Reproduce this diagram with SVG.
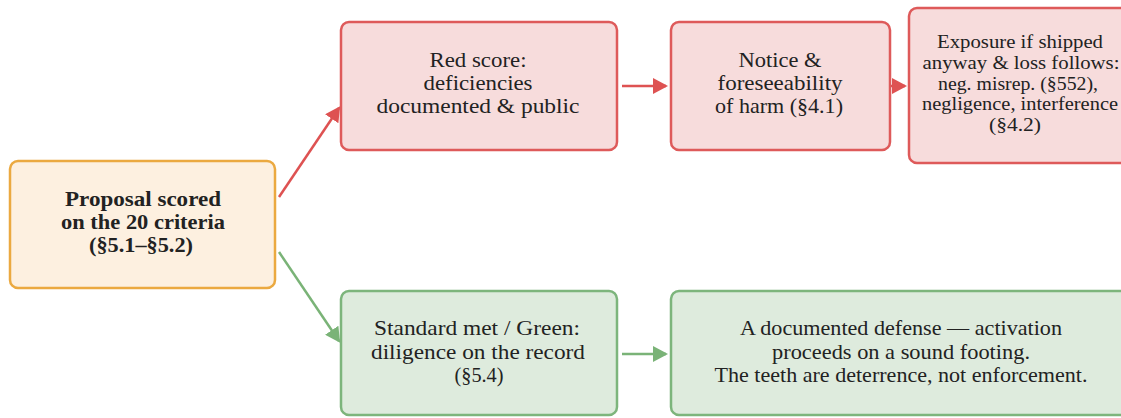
<svg xmlns="http://www.w3.org/2000/svg" width="1121" height="418" viewBox="0 0 1121 418">
<defs>
<style>
text{font-family:"Liberation Serif","DejaVu Serif",serif;fill:#222;text-anchor:middle;font-size:21px}
.b{font-weight:bold}
.s{font-size:19px}
.red{fill:#f7dcdc;stroke:#de5a5a;stroke-width:2.5}
.grn{fill:#deebdd;stroke:#7db57c;stroke-width:2.5}
.org{fill:#fdf0e0;stroke:#eba940;stroke-width:2.5}
.cr{stroke:#de5252;stroke-width:2.5;fill:none}
.cg{stroke:#7ab377;stroke-width:2.5;fill:none}
</style>
<marker id="ar" viewBox="0 0 15 16" refX="13" refY="8" markerWidth="15" markerHeight="16" markerUnits="userSpaceOnUse" orient="auto"><path d="M0,0L15,8L0,16z" fill="#de5252"/></marker>
<marker id="ag" viewBox="0 0 15 16" refX="13" refY="8" markerWidth="15" markerHeight="16" markerUnits="userSpaceOnUse" orient="auto"><path d="M0,0L15,8L0,16z" fill="#7ab377"/></marker>
</defs>
<g id="connectors">
<path class="cr" d="M279,197L339,108" marker-end="url(#ar)"/>
<path class="cg" d="M279,252L339,341" marker-end="url(#ag)"/>
<path class="cr" d="M622,86L666,86" marker-end="url(#ar)"/>
<path class="cr" d="M891,86L905,86" marker-end="url(#ar)"/>
<path class="cg" d="M622,354L666,354" marker-end="url(#ag)"/>
</g>
<g id="n-proposal">
<rect class="org" x="10" y="161" width="265" height="127" rx="8"/>
<text class="b" x="143" y="206" textLength="156" lengthAdjust="spacingAndGlyphs">Proposal scored</text>
<text class="b" x="143" y="229" textLength="164" lengthAdjust="spacingAndGlyphs">on the 20 criteria</text>
<text class="b" x="141" y="252" textLength="104" lengthAdjust="spacingAndGlyphs">(§5.1–§5.2)</text>
</g>
<g id="n-red">
<rect class="red" x="341" y="22" width="276" height="128" rx="8"/>
<text x="478" y="67" textLength="97" lengthAdjust="spacingAndGlyphs">Red score:</text>
<text x="478" y="90" textLength="109" lengthAdjust="spacingAndGlyphs">deficiencies</text>
<text x="478" y="113" textLength="203" lengthAdjust="spacingAndGlyphs">documented &amp; public</text>
</g>
<g id="n-notice">
<rect class="red" x="671" y="22" width="219" height="128" rx="8"/>
<text x="780" y="67" textLength="83" lengthAdjust="spacingAndGlyphs">Notice &amp;</text>
<text x="780" y="90" textLength="125" lengthAdjust="spacingAndGlyphs">foreseeability</text>
<text x="779" y="113" textLength="128" lengthAdjust="spacingAndGlyphs">of harm (§4.1)</text>
</g>
<g id="n-exposure">
<rect class="red" x="909" y="8" width="230" height="155" rx="8"/>
<text class="s" x="1020" y="48" textLength="166" lengthAdjust="spacingAndGlyphs">Exposure if shipped</text>
<text class="s" x="1021" y="69" textLength="197" lengthAdjust="spacingAndGlyphs">anyway &amp; loss follows:</text>
<text class="s" x="1018" y="90" textLength="160" lengthAdjust="spacingAndGlyphs">neg. misrep. (§552),</text>
<text class="s" x="1020" y="110" textLength="196" lengthAdjust="spacingAndGlyphs">negligence, interference</text>
<text class="s" x="1015" y="131" textLength="52" lengthAdjust="spacingAndGlyphs">(§4.2)</text>
</g>
<g id="n-green">
<rect class="grn" x="341" y="291" width="276" height="124" rx="8"/>
<text x="477" y="335" textLength="206" lengthAdjust="spacingAndGlyphs">Standard met / Green:</text>
<text x="478" y="359" textLength="214" lengthAdjust="spacingAndGlyphs">diligence on the record</text>
<text x="479" y="382" textLength="49" lengthAdjust="spacingAndGlyphs">(§5.4)</text>
</g>
<g id="n-defense">
<rect class="grn" x="671" y="291" width="470" height="124" rx="8"/>
<text x="901" y="335" textLength="322" lengthAdjust="spacingAndGlyphs">A documented defense — activation</text>
<text x="901" y="359" textLength="258" lengthAdjust="spacingAndGlyphs">proceeds on a sound footing.</text>
<text x="901" y="382" textLength="373" lengthAdjust="spacingAndGlyphs">The teeth are deterrence, not enforcement.</text>
</g>
</svg>
